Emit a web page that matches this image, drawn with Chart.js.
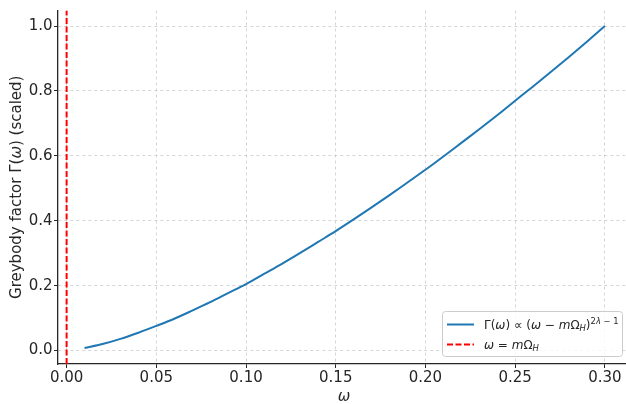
<!DOCTYPE html>
<html>
<head>
<meta charset="utf-8">
<script src="https://cdn.jsdelivr.net/npm/chart.js@4.4.0/dist/chart.umd.min.js"></script>
<style>
  body { margin: 0; background: #fff; }
  #wrap { width: 626px; height: 404px; }
</style>
</head>
<body>
<div id="wrap"><canvas id="chart" width="626" height="404"></canvas></div>
<script>
// Data
const omega = [0.01, 0.02, 0.03, 0.04, 0.05, 0.06, 0.07, 0.08, 0.09, 0.10,
               0.11, 0.12, 0.13, 0.14, 0.15, 0.16, 0.17, 0.18, 0.19, 0.20,
               0.21, 0.22, 0.23, 0.24, 0.25, 0.26, 0.27, 0.28, 0.29, 0.30];
const greybody = [0.008, 0.020, 0.036, 0.055, 0.076, 0.098, 0.123, 0.149, 0.177, 0.205,
                  0.236, 0.267, 0.300, 0.334, 0.368, 0.404, 0.441, 0.479, 0.518, 0.557,
                  0.598, 0.640, 0.682, 0.725, 0.770, 0.814, 0.859, 0.905, 0.952, 1.000];
const omegaH = 0;                 // position of the threshold line
const xTicks = [0.00, 0.05, 0.10, 0.15, 0.20, 0.25, 0.30];
const yTicks = [0.0, 0.2, 0.4, 0.6, 0.8, 1.0];
const xRange = [-0.0048, 0.3118];
const yRange = [-0.0415, 1.048];

const FONT = '"DejaVu Sans", sans-serif';
const BLUE = '#1f77b4';
const RED = '#ff0000';
const TEXT = '#262626';

// draw a run of text pieces (normal / italic / sub / sup)
function drawRich(ctx, parts, x, y, size) {
    let cx = x;
    parts.forEach(p => {
        const s = size * (p.small ? 0.7 : 1);
        ctx.font = (p.it ? 'italic ' : '') + s + 'px ' + FONT;
        ctx.fillText(p.t, cx, y + (p.dy || 0) * size);
        cx += ctx.measureText(p.t).width;
    });
    return cx - x;
}

function richWidth(ctx, parts, size) {
    let w = 0;
    parts.forEach(p => {
        const s = size * (p.small ? 0.7 : 1);
        ctx.font = (p.it ? 'italic ' : '') + s + 'px ' + FONT;
        w += ctx.measureText(p.t).width;
    });
    return w;
}

const legendRows = [
    [{t: 'Γ('}, {t: 'ω', it: true}, {t: ') ∝ ('}, {t: 'ω', it: true}, {t: ' − '},
     {t: 'm', it: true}, {t: 'Ω'}, {t: 'H', it: true, small: true, dy: 0.2},
     {t: ')'}, {t: '2', small: true, dy: -0.42}, {t: 'λ', it: true, small: true, dy: -0.42},
     {t: ' − 1', small: true, dy: -0.42}],
    [{t: 'ω', it: true}, {t: ' = '}, {t: 'm', it: true}, {t: 'Ω'},
     {t: 'H', it: true, small: true, dy: 0.2}]
];

const yTitle = [{t: 'Greybody factor Γ('}, {t: 'ω', it: true}, {t: ') (scaled)'}];

const decorPlugin = {
    id: 'decor',
    afterDraw(chart) {
        const ctx = chart.ctx;
        const area = chart.chartArea;
        ctx.save();
        ctx.fillStyle = TEXT;
        ctx.textBaseline = 'alphabetic';

        // x axis title (sits at the very bottom edge)
        ctx.font = 'italic 15px ' + FONT;
        ctx.textAlign = 'center';
        ctx.fillText('ω', (area.left + 630) / 2, 401);

        // y axis title
        ctx.textAlign = 'left';
        ctx.translate(21, (area.top + area.bottom) / 2);
        ctx.rotate(-Math.PI / 2);
        const w = richWidth(ctx, yTitle, 15);
        drawRich(ctx, yTitle, -w / 2, 0, 15);
        ctx.restore();

        // legend
        ctx.save();
        const bx = 442.5, by = 311.5, bw = 180, bh = 45;
        ctx.beginPath();
        ctx.roundRect(bx, by, bw, bh, 3);
        ctx.fillStyle = 'rgba(255,255,255,0.8)';
        ctx.fill();
        ctx.strokeStyle = '#cccccc';
        ctx.lineWidth = 1;
        ctx.stroke();

        const sets = chart.data.datasets;
        const rowsY = [324.5, 344.5];
        sets.forEach((ds, i) => {
            ctx.beginPath();
            ctx.strokeStyle = ds.borderColor;
            ctx.lineWidth = ds.borderWidth;
            ctx.setLineDash(ds.borderDash || []);
            ctx.moveTo(447, rowsY[i]);
            ctx.lineTo(474, rowsY[i]);
            ctx.stroke();
        });
        ctx.setLineDash([]);
        ctx.fillStyle = TEXT;
        ctx.textAlign = 'left';
        legendRows.forEach((row, i) => {
            drawRich(ctx, row, 484, rowsY[i] + 4.5, 12);
        });
        ctx.restore();
    }
};

const ctx = document.getElementById('chart').getContext('2d');

new Chart(ctx, {
    type: 'line',
    data: {
        datasets: [
            {
                label: 'Gamma',
                data: omega.map((w, i) => ({x: w, y: greybody[i]})),
                borderColor: BLUE,
                borderWidth: 2,
                pointRadius: 0,
                cubicInterpolationMode: 'monotone',
                fill: false
            },
            {
                label: 'omega = m Omega_H',
                data: [{x: omegaH, y: yRange[0]}, {x: omegaH, y: yRange[1]}],
                borderColor: RED,
                borderWidth: 2,
                borderDash: [6, 2.5],
                pointRadius: 0,
                fill: false
            }
        ]
    },
    options: {
        responsive: false,
        devicePixelRatio: 1,
        animation: false,
        layout: { padding: { top: 9, right: 0, left: 0, bottom: 0 } },
        plugins: {
            legend: { display: false },
            tooltip: { enabled: false }
        },
        scales: {
            x: {
                type: 'linear',
                min: xRange[0],
                max: xRange[1],
                afterBuildTicks: scale => { scale.ticks = xTicks.map(v => ({value: v})); },
                afterFit: scale => { scale.height = 40; },
                ticks: {
                    callback: v => v.toFixed(2),
                    color: TEXT,
                    font: { family: FONT, size: 15 },
                    padding: 1,
                    maxRotation: 0
                },
                grid: {
                    color: 'rgba(190,190,190,0.8)',
                    lineWidth: 0.8,
                    tickColor: TEXT,
                    tickLength: 4,
                    tickWidth: 1
                },
                border: { color: TEXT, width: 1.3, dash: [3, 3] }
            },
            y: {
                type: 'linear',
                min: yRange[0],
                max: yRange[1],
                afterBuildTicks: scale => { scale.ticks = yTicks.map(v => ({value: v})); },
                afterFit: scale => { scale.width = 58; },
                ticks: {
                    callback: v => v.toFixed(1),
                    color: TEXT,
                    font: { family: FONT, size: 15 },
                    padding: 1.5
                },
                grid: {
                    color: 'rgba(190,190,190,0.8)',
                    lineWidth: 0.8,
                    tickColor: TEXT,
                    tickLength: 4,
                    tickWidth: 1
                },
                border: { color: TEXT, width: 1.3, dash: [3, 3] }
            }
        }
    },
    plugins: [decorPlugin]
});
</script>
</body>
</html>
